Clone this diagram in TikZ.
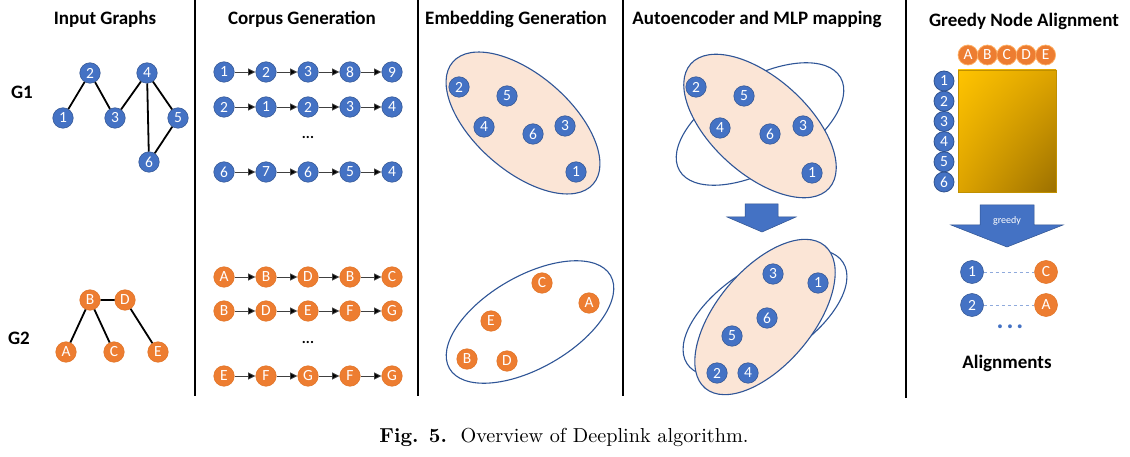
\documentclass[tikz,border=0pt]{standalone}
\usepackage{graphicx}
\usepackage{fontspec}
\newfontfamily\carl{Carlito}
\usetikzlibrary{arrows.meta,shadings}
\definecolor{nblue}{HTML}{4472C4}
\definecolor{nbluedk}{HTML}{2F528F}
\definecolor{norange}{HTML}{ED7D31}
\definecolor{norangedk}{HTML}{E07020}
\definecolor{peach}{HTML}{FBE5D6}
\definecolor{elline}{HTML}{2F5597}
\definecolor{goldA}{HTML}{FFC400}
\definecolor{goldB}{HTML}{DDA300}
\definecolor{goldC}{HTML}{9C7000}
\definecolor{goldE}{HTML}{C09000}
\definecolor{dashblue}{HTML}{8FAADC}
\tikzset{
  bn/.style={circle,fill=nblue,draw=nbluedk,line width=0.5pt,text=white,inner sep=0pt,minimum size=20.5pt,font=\carl\fontsize{15.5}{15.5}\selectfont},
  on/.style={bn,fill=norange,draw=norangedk},
  gedge/.style={line width=1.8pt,black},
  warr/.style={draw=black!75,line width=0.9pt,-{Triangle[length=7.5pt,width=7pt,fill=black]}},
  ttl/.style={font=\carl\bfseries\fontsize{19}{19}\selectfont,anchor=base},
  sep/.style={line width=1.4pt,black},
  ell/.style={draw=elline,line width=1.1pt},
  barrow/.style={fill=nblue,draw=nbluedk,line width=0.5pt},
}
\begin{document}
\begin{tikzpicture}[x=1pt,y=-1pt]
\useasboundingbox (0,0) rectangle (1130,457);
\fill[white] (0,0) rectangle (1130,457);
% separators
\draw[sep] (195,0) -- (195,396);
\draw[sep] (418,0) -- (418,396);
\draw[sep] (623,0) -- (623,396);
\draw[sep] (906,0) -- (906,398);
% titles
\node[ttl] (t1) at (105,24.5) {Input Graphs};
\node[ttl] (t2) at (302,24.5) {Corpus Generation};
\node[ttl] (t3) at (516,24.5) {Embedding Generation};
\node[ttl] (t4) at (757,24.5) {Autoencoder and MLP mapping};
\node[ttl] (t5) at (1024,26.5) {Greedy Node Alignment};
\node[font=\carl\bfseries\fontsize{19}{19}\selectfont] (g1) at (22,92) {G1};
\node[font=\carl\bfseries\fontsize{19}{19}\selectfont] (g2) at (19,338) {G2};
% G1
\node[bn] (a2) at (90,73) {2};
\node[bn] (a4) at (147,73) {4};
\node[bn] (a1) at (63,118) {1};
\node[bn] (a3) at (115,118) {3};
\node[bn] (a5) at (178,118) {5};
\node[bn] (a6) at (149,162) {6};
\draw[gedge] (a1) -- (a2) (a2) -- (a3) (a3) -- (a4) (a4) -- (a6) (a4) -- (a5) (a5) -- (a6);
% G2
\node[on] (bB) at (90,300) {B};
\node[on] (bD) at (125,300) {D};
\node[on] (bA) at (66,352) {A};
\node[on] (bC) at (114,352) {C};
\node[on] (bE) at (158,352) {E};
\draw[gedge] (bB) -- (bD) (bB) -- (bA) (bB) -- (bC) (bD) -- (bE);
% corpus rows
\foreach \lab [count=\i] in {1,2,3,8,9} \node[bn] (ra\i) at ({224+42*(\i-1)},72) {\lab};
\foreach \lab [count=\i] in {2,1,2,3,4} \node[bn] (rb\i) at ({224+42*(\i-1)},107) {\lab};
\foreach \lab [count=\i] in {6,7,6,5,4} \node[bn] (rc\i) at ({224+42*(\i-1)},172) {\lab};
\foreach \lab [count=\i] in {A,B,D,B,C} \node[on] (rd\i) at ({224+42*(\i-1)},277) {\lab};
\foreach \lab [count=\i] in {B,D,E,F,G} \node[on] (re\i) at ({224+42*(\i-1)},311) {\lab};
\foreach \lab [count=\i] in {E,F,G,F,G} \node[on] (rf\i) at ({224+42*(\i-1)},376) {\lab};
\foreach \r in {ra,rb,rc,rd,re,rf}{
  \foreach \i in {1,...,4}{
    \pgfmathtruncatemacro\j{\i+1}
    \draw[warr] (\r\i) -- (\r\j);
  }
}
\node[font=\carl\bfseries\fontsize{15}{15}\selectfont] (dots1) at (308,137) {...};
\node[font=\carl\bfseries\fontsize{15}{15}\selectfont] (dots2) at (308,342) {...};
% embedding generation
\filldraw[ell,fill=peach,rotate around={-41:(523,123)}] (523,123) ellipse [x radius=93pt,y radius=48pt];
\node[bn] (e2) at (459,87) {2};
\node[bn] (e5) at (507,96) {5};
\node[bn] (e4) at (484,127) {4};
\node[bn] (e6) at (533,134) {6};
\node[bn] (e3) at (565,126) {3};
\node[bn] (e1) at (576,172) {1};
\draw[ell,rotate around={30:(530,322)}] (530,322) ellipse [x radius=93pt,y radius=46pt];
\node[on] (fC) at (542,283) {C};
\node[on] (fA) at (589,303) {A};
\node[on] (fE) at (491,321) {E};
\node[on] (fB) at (467,359) {B};
\node[on] (fD) at (507,361) {D};
% autoencoder top
\draw[ell,rotate around={30:(760,124)}] (760,124) ellipse [x radius=93pt,y radius=46pt];
\filldraw[ell,fill=peach,rotate around={-42:(760,126)}] (760,126) ellipse [x radius=93pt,y radius=48pt];
\node[bn] (m2) at (696,87) {2};
\node[bn] (m5) at (744,96) {5};
\node[bn] (m4) at (720,128) {4};
\node[bn] (m6) at (770,134) {6};
\node[bn] (m3) at (803,126) {3};
\node[bn] (m1) at (812,173) {1};
% block arrow
\filldraw[barrow] (745,204) -- (778,204) -- (778,217) -- (796,217) -- (762,232) -- (727,217) -- (745,217) -- cycle;
% autoencoder bottom
\draw[ell,rotate around={33:(765,313)}] (765,313) ellipse [x radius=93pt,y radius=46pt];
\filldraw[ell,fill=peach,rotate around={50:(765,317)}] (765,317) ellipse [x radius=93pt,y radius=48pt];
\node[bn] (n3) at (773,274) {3};
\node[bn] (n1) at (818,283) {1};
\node[bn] (n6) at (767,318) {6};
\node[bn] (n5) at (732,336) {5};
\node[bn] (n2) at (717,373) {2};
\node[bn] (n4) at (748,373) {4};
% greedy matrix
\shade[upper left=goldA,upper right=goldB,lower left=goldB,lower right=goldC] (958,70) rectangle (1056,192);
\draw[goldE,line width=0.8pt] (958,70) rectangle (1056,192);
\foreach \lab [count=\i] in {A,B,C,D,E} \node[on,draw=orange!60!white,line width=0.7pt,minimum size=20pt] (h\lab) at ({968+19.4*(\i-1)},55) {\lab};
\foreach \lab [count=\i] in {1,2,3,4,5,6} \node[bn,line width=0.8pt,minimum size=20pt] (v\lab) at (944,{81+20.2*(\i-1)}) {\lab};
% greedy arrow
\filldraw[barrow] (980,205) -- (1034,205) -- (1034,225) -- (1063,225) -- (1007,247) -- (951,225) -- (980,225) -- cycle;
\node[text=white,font=\carl\fontsize{10}{10}\selectfont] (gr) at (1007,221) {greedy};
% alignments
\node[bn,minimum size=23pt] (al1) at (972,272) {1};
\node[on,minimum size=23pt] (alC) at (1046,272) {C};
\node[bn,minimum size=23pt] (al2) at (972,305) {2};
\node[on,minimum size=23pt] (alA) at (1046,305) {A};
\draw[dashblue,dashed,line width=0.9pt] (al1) -- (alC);
\draw[dashblue,dashed,line width=0.9pt] (al2) -- (alA);
\node[text=nblue,font=\carl\bfseries\fontsize{26}{26}\selectfont] (adots) at (1010,327) {.\kern3pt.\kern3pt.};
\node[ttl] (alg) at (1007,368) {Alignments};
% caption
\node (cap) at (564,437) {\resizebox{369pt}{!}{\textbf{Fig. 5.}\ \ Overview of Deeplink algorithm.}};
\end{tikzpicture}
\end{document}
